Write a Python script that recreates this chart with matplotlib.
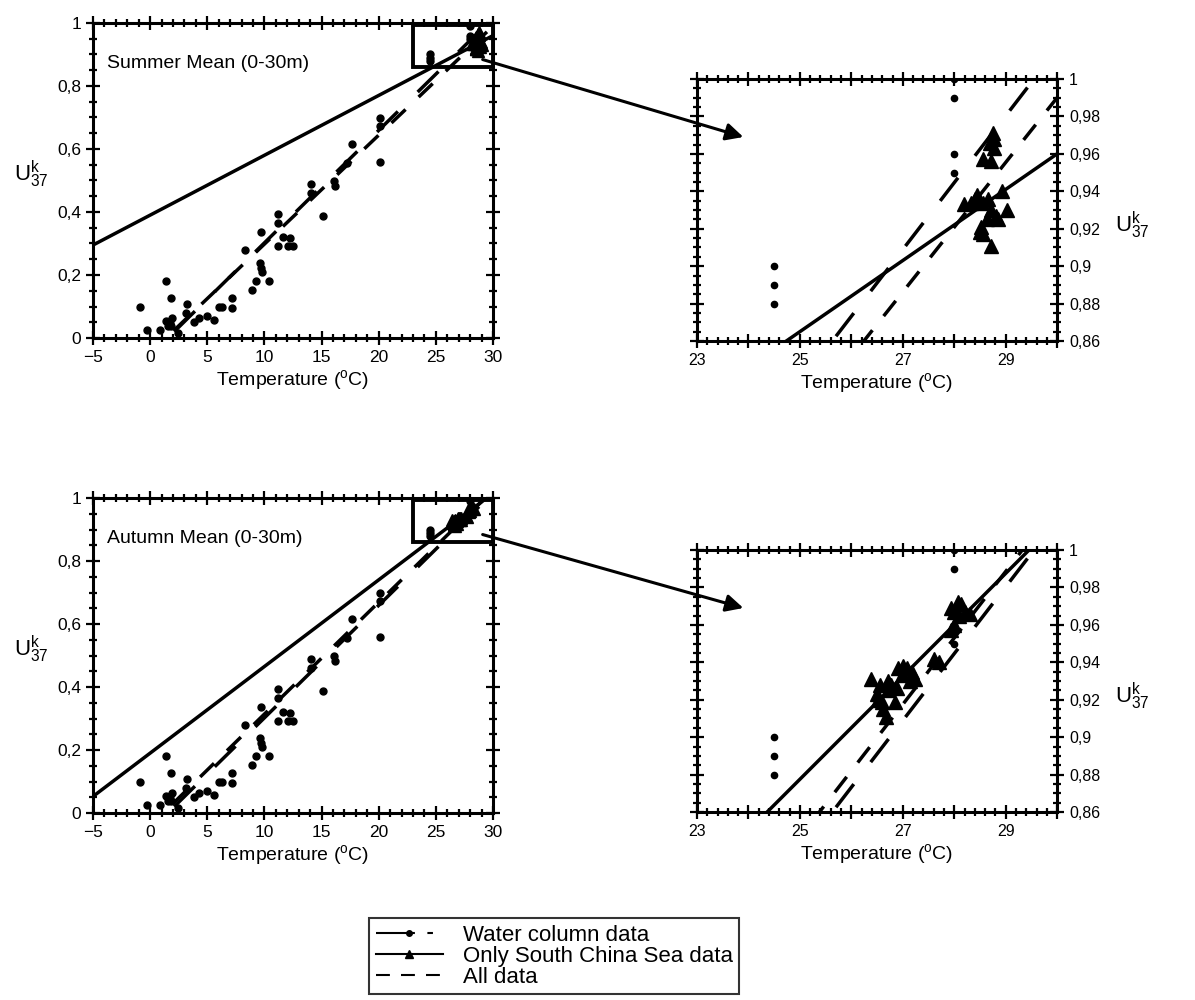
import numpy as np
import matplotlib
matplotlib.use('Agg')
import matplotlib.pyplot as plt
from matplotlib.ticker import MultipleLocator, FuncFormatter
from matplotlib.patches import Rectangle, ConnectionPatch
from matplotlib.lines import Line2D

plt.rcParams['font.family'] = ['Liberation Sans', 'DejaVu Sans']
plt.rcParams['mathtext.fontset'] = 'custom'
plt.rcParams['mathtext.rm'] = 'Liberation Sans'
plt.rcParams['mathtext.it'] = 'Liberation Sans:italic'
plt.rcParams['lines.scale_dashes'] = False

# --------------- Data ---------------
# water column data (same in both seasons)
wc_T = [-0.85, -0.3, 0.9, 1.4, 1.4, 1.55, 1.8, 1.7, 1.9, 1.8, 2.45, 3.2, 3.1,
        3.85, 4.25, 5.0, 5.6, 6.0, 6.3, 7.2, 7.2, 8.3, 8.9, 9.3, 9.7, 9.6,
        9.7, 9.8, 10.4, 11.2, 11.2, 11.2, 11.6, 12.1, 12.2, 12.5, 14.1, 14.1,
        15.1, 16.1, 16.2, 17.2, 17.7, 20.1, 20.1, 20.1, 24.5, 24.5, 24.5,
        28.0, 28.0, 28.0, 28.0]
wc_U = [0.097, 0.026, 0.026, 0.18, 0.053, 0.037, 0.127, 0.048, 0.063, 0.037,
        0.016, 0.109, 0.079, 0.05, 0.063, 0.069, 0.056, 0.098, 0.098, 0.127,
        0.095, 0.278, 0.153, 0.18, 0.335, 0.238, 0.222, 0.21, 0.18, 0.395,
        0.365, 0.291, 0.32, 0.293, 0.317, 0.291, 0.489, 0.46, 0.386, 0.497,
        0.481, 0.556, 0.617, 0.698, 0.672, 0.558, 0.88, 0.89, 0.90,
        0.95, 0.96, 0.99, 1.0]

# South China Sea data, summer mean
scs_sum_T = [28.75, 28.78, 28.78, 28.7, 28.56, 28.72, 28.92, 28.44, 28.32,
             28.19, 28.56, 29.03, 28.72, 28.81, 28.63, 28.53, 28.56, 28.72,
             28.5, 28.65, 28.4, 28.85]
scs_sum_U = [0.971, 0.968, 0.963, 0.966, 0.957, 0.956, 0.940, 0.938, 0.934,
             0.933, 0.934, 0.930, 0.930, 0.927, 0.925, 0.921, 0.917, 0.911,
             0.918, 0.936, 0.936, 0.925]

# South China Sea data, autumn mean
scs_aut_T = [26.39, 26.49, 26.52, 26.59, 26.62, 26.68, 26.55, 26.72, 26.78,
             26.88, 26.72, 26.91, 27.01, 27.08, 27.18, 27.24, 26.98, 27.14,
             27.61, 27.7, 27.93, 28.0, 28.0, 28.07, 28.13, 28.1, 28.2, 28.3,
             27.93, 26.85]
scs_aut_U = [0.931, 0.923, 0.920, 0.919, 0.915, 0.911, 0.928, 0.930, 0.928,
             0.926, 0.925, 0.937, 0.938, 0.937, 0.935, 0.931, 0.933, 0.930,
             0.942, 0.940, 0.957, 0.960, 0.967, 0.972, 0.971, 0.965, 0.967,
             0.966, 0.969, 0.919]

# regression lines (slope, intercept)
wc_fit = (0.0357, -0.055)
scs_sum_fit = (0.019, 0.390)
all_sum_fit = (0.0346, -0.048)
scs_aut_fit = (0.0275, 0.190)
all_aut_fit = (0.0355, -0.041)

panel_titles = ['Summer Mean (0-30m)', 'Autumn Mean (0-30m)']
legend_labels = ['Water column data', 'Only South China Sea data', 'All data']

wc_dash = (0, (21, 20))
all_dash = (0, (14, 13))
ylab = r'U$^{\mathrm{k}}_{\mathrm{37}}$'
xlab = r'Temperature ($^{\mathrm{o}}$C)'


def comma(v, p):
    return ('%g' % round(v, 3)).replace('.', ',')


def odd_only(v, p):
    n = int(round(v))
    return str(n) if n % 2 == 1 else ''


def style(ax, big):
    ax.tick_params(which='both', direction='inout', top=True, right=True,
                   width=1.6, labelsize=12.5 if big else 11.5)
    ax.tick_params(which='major', length=10)
    ax.tick_params(which='minor', length=6)
    for s in ax.spines.values():
        s.set_linewidth(2.2)


def draw_lines(ax, fit_scs, fit_all):
    x = np.linspace(ax.get_xlim()[0], ax.get_xlim()[1], 200)
    ax.plot(x, fit_scs[0] * x + fit_scs[1], color='k', lw=2.5)
    ax.plot(x, wc_fit[0] * x + wc_fit[1], color='k', lw=2.5, linestyle=wc_dash)
    ax.plot(x, fit_all[0] * x + fit_all[1], color='k', lw=2.5, linestyle=all_dash)


fig = plt.figure(figsize=(11.95, 10), dpi=100)
axL = [fig.add_axes([0.0778, 0.662, 0.3347, 0.315]),
       fig.add_axes([0.0778, 0.187, 0.3347, 0.315])]
axR = [fig.add_axes([0.5833, 0.659, 0.3013, 0.262]),
       fig.add_axes([0.5833, 0.188, 0.3013, 0.262])]

scs_T = [scs_sum_T, scs_aut_T]
scs_U = [scs_sum_U, scs_aut_U]
scs_fits = [scs_sum_fit, scs_aut_fit]
all_fits = [all_sum_fit, all_aut_fit]

for i in range(2):
    # --------------- full range panel ---------------
    ax = axL[i]
    ax.set_xlim(-5, 30)
    ax.set_ylim(0, 1)
    draw_lines(ax, scs_fits[i], all_fits[i])
    ax.plot(wc_T, wc_U, 'o', color='k', ms=5, ls='none')
    ax.plot(scs_T[i], scs_U[i], '^', color='k', ms=8, ls='none')
    ax.add_patch(Rectangle((23, 0.86), 7, 0.133, fill=False, lw=2.8, ec='k', zorder=5))
    ax.text(-3.8, 0.873, panel_titles[i], fontsize=14, va='center')
    ax.xaxis.set_major_locator(MultipleLocator(5))
    ax.xaxis.set_minor_locator(MultipleLocator(1))
    ax.yaxis.set_major_locator(MultipleLocator(0.2))
    ax.yaxis.set_minor_locator(MultipleLocator(0.05))
    ax.yaxis.set_major_formatter(FuncFormatter(comma))
    style(ax, True)
    ax.set_xlabel(xlab, fontsize=14, labelpad=2)
    ax.set_ylabel(ylab, fontsize=16, rotation=0)
    ax.yaxis.set_label_coords(-0.155, 0.47)

    # --------------- zoomed panel ---------------
    az = axR[i]
    az.set_xlim(23, 30)
    az.set_ylim(0.86, 1)
    draw_lines(az, scs_fits[i], all_fits[i])
    az.plot(wc_T, wc_U, 'o', color='k', ms=4.5, ls='none')
    az.plot(scs_T[i], scs_U[i], '^', color='k', ms=10, ls='none')
    az.xaxis.set_major_locator(MultipleLocator(1))
    az.xaxis.set_minor_locator(MultipleLocator(0.2))
    az.xaxis.set_major_formatter(FuncFormatter(odd_only))
    az.yaxis.set_major_locator(MultipleLocator(0.02))
    az.yaxis.set_minor_locator(MultipleLocator(0.005))
    az.yaxis.set_major_formatter(FuncFormatter(comma))
    style(az, False)
    az.tick_params(labelleft=False, labelright=True)
    az.set_xlabel(xlab, fontsize=14, labelpad=2)
    az.yaxis.set_label_position('right')
    az.set_ylabel(ylab, fontsize=16, rotation=0)
    az.yaxis.set_label_coords(1.21, 0.5)

    con = ConnectionPatch(xyA=(29.1, 0.884), coordsA=ax.transData,
                          xyB=(23.9, 0.969), coordsB=az.transData,
                          arrowstyle='-|>', mutation_scale=26, lw=2.2,
                          color='k', zorder=10)
    fig.add_artist(con)

# --------------- legend ---------------
handles = [Line2D([0], [0], color='k', lw=1.5, linestyle=(0, (28, 9, 4, 30)),
                  marker='o', ms=4),
           Line2D([0], [0], color='k', lw=1.5, marker='^', ms=6),
           Line2D([0], [0], color='k', lw=1.5, linestyle=(0, (10, 8)))]
leg = fig.legend(handles, legend_labels, loc='upper left',
                 bbox_to_anchor=(0.309, 0.082), fontsize=16, frameon=True,
                 fancybox=False, handlelength=3.0, handletextpad=0.9,
                 labelspacing=0.0, borderpad=0.3, borderaxespad=0)
leg.get_frame().set_edgecolor('k')
leg.get_frame().set_linewidth(1.5)

fig.savefig('out.png', dpi=100)
